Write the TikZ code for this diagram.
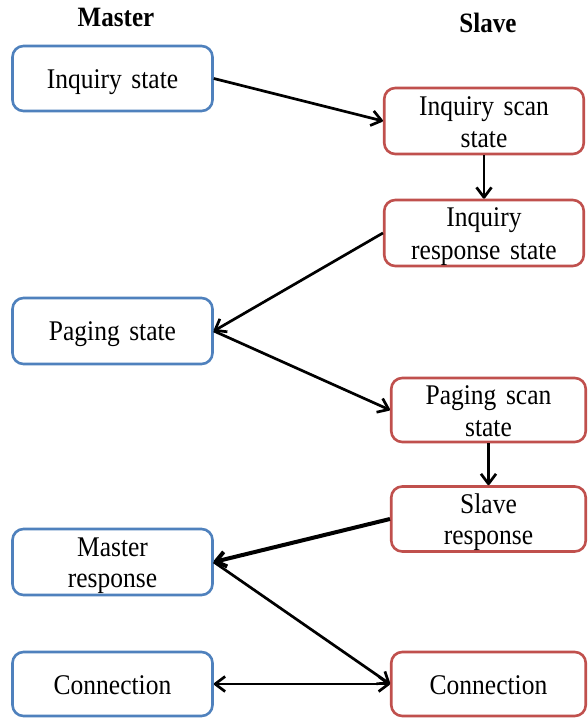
\documentclass[tikz,border=0pt]{standalone}
\usepackage{fontspec}
\setmainfont[FakeStretch=0.895, WordSpace=1.5]{Liberation Serif}
\usepackage{array}
\usetikzlibrary{arrows.meta}

\definecolor{masterblue}{RGB}{79,129,189}
\definecolor{slavered}{RGB}{192,80,77}

% centred lines with a fixed baseline-to-baseline distance
\newcommand\txtlines[1]{{\renewcommand\arraystretch{0}%
  \begin{tabular}{@{}>{\rule[-5pt]{0pt}{31pt}}c@{}}#1\end{tabular}}}

\tikzset{
  statebox/.style={draw, line width=2.6pt, rounded corners=11pt, fill=white,
    inner sep=0pt, font=\fontsize{28.5}{31}\selectfont},
  masterbox/.style={statebox, draw=masterblue, minimum width=200pt},
  slavebox/.style={statebox, draw=slavered},
  upperslave/.style={slavebox, minimum width=199.5pt},
  lowerslave/.style={slavebox, minimum width=194.5pt},
  header/.style={font=\fontsize{28}{30}\selectfont\bfseries, anchor=base, inner sep=0pt},
  barb/.tip={Straight Barb[length=10pt,width=15pt,line join=round]},
  flow/.style={line width=2.7pt, -barb},
}

\begin{document}
\begin{tikzpicture}[x=1pt, y=-1pt]
  \fill[white] (0,0) rectangle (587,719);
  \useasboundingbox (0,0) rectangle (587,719);

  % column headers
  \node[header] (hmaster) at (116,27) {Master};
  \node[header] (hslave)  at (488,33) {Slave};

  % master states
  \node[masterbox, minimum height=65pt] (inq)  at (112.5,78.5) {\txtlines{Inquiry state}};
  \node[masterbox, minimum height=66pt] (pag)  at (112.5,331)  {\txtlines{Paging state}};
  \node[masterbox, minimum height=66pt] (mres) at (112.5,562)  {\txtlines{Master\\response}};
  \node[masterbox, minimum height=64pt] (conl) at (112.5,684)  {\txtlines{Connection}};

  % slave states
  \node[upperslave, minimum height=66pt] (isc)  at (484,121)   {\txtlines{Inquiry scan\\state}};
  \node[upperslave, minimum height=66pt] (irs)  at (484,233)   {\txtlines{Inquiry\\response state}};
  \node[lowerslave, minimum height=64pt] (psc)  at (488.5,410) {\txtlines{Paging scan\\state}};
  \node[lowerslave, minimum height=65pt] (sres) at (488.5,519) {\txtlines{Slave\\response}};
  \node[lowerslave, minimum height=64pt] (conr) at (488.5,684) {\txtlines{Connection}};

  % transitions
  \draw[flow] (inq.east)  -- (isc.west);
  \draw[flow] (isc.south) -- (irs.north);
  \draw[flow] (irs.west)  -- (pag.east);
  \draw[flow] (pag.east)  -- (psc.west);
  \draw[flow] (psc.south) -- (sres.north);
  \draw[flow, line width=4pt] (sres.west) -- (mres.east);
  \draw[flow] (mres.east) -- (conr.west);
  \draw[line width=2.7pt, barb-barb] (conl.east) -- (conr.west);
\end{tikzpicture}
\end{document}
